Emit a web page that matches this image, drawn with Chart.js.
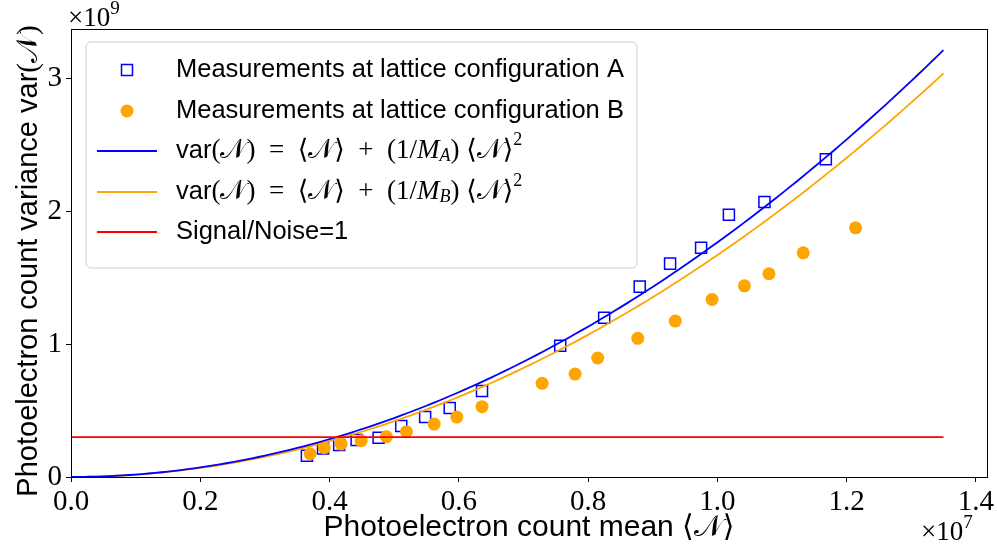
<!DOCTYPE html>
<html>
<head>
<meta charset="utf-8">
<script src="https://cdn.jsdelivr.net/npm/chart.js@4.4.0/dist/chart.umd.min.js"></script>
<style>
  html, body { margin: 0; padding: 0; background: #fff; }
</style>
</head>
<body>
<canvas id="chartVariance" width="997" height="554"></canvas>
<script>
// x values in units of 1e7 photoelectrons, y values in units of 1e9
const meanA = [0.365, 0.39, 0.415, 0.442, 0.476, 0.511, 0.548, 0.586, 0.636, 0.757, 0.825, 0.880, 0.927, 0.975, 1.018, 1.073, 1.168];
const varA  = [0.160, 0.215, 0.240, 0.278, 0.295, 0.383, 0.451, 0.519, 0.647, 0.987, 1.198, 1.432, 1.605, 1.724, 1.972, 2.068, 2.391];

const meanB = [0.370, 0.392, 0.418, 0.449, 0.488, 0.519, 0.562, 0.597, 0.636, 0.729, 0.780, 0.815, 0.877, 0.935, 0.992, 1.042, 1.080, 1.133, 1.214];
const varB  = [0.175, 0.220, 0.248, 0.273, 0.303, 0.341, 0.398, 0.451, 0.529, 0.705, 0.774, 0.895, 1.043, 1.173, 1.336, 1.438, 1.529, 1.686, 1.874];

// fitted mode numbers for var = <N> + <N>^2 / M
const modesA = 57000;
const modesB = 60300;
const fitEnd = 1.35;          // last mean value of the fit curves (x1e7)
const snrOneLevel = 0.30;     // variance where signal/noise = 1 (x1e9)

const xTicks = [0.0, 0.2, 0.4, 0.6, 0.8, 1.0, 1.2, 1.4];
const yTicks = [0, 1, 2, 3];

const legendLabels = [
    "Measurements at lattice configuration A",
    "Measurements at lattice configuration B",
    "fitA",
    "fitB",
    "Signal/Noise=1"
];

const SANS  = '"Liberation Sans", Arial, sans-serif';
const SERIF = '"Liberation Serif", "DejaVu Serif", serif';
const CAL_N = "\u{1D4A9}";
const SP = "\u2002";   // gap around = and + in the formulas

// fit curve sampled over the mean range
function fitCurve(modes) {
    const pts = [];
    for (let i = 0; i <= 135; i++) {
        const n = i / 100;              // x1e7
        const nAbs = n * 1e7;
        pts.push({ x: n, y: (nAbs + nAbs * nAbs / modes) / 1e9 });
    }
    return pts;
}

function zip(xs, ys) {
    return xs.map((x, i) => ({ x: x, y: ys[i] }));
}

// draws a run of text pieces with their own fonts / vertical offsets
function drawRich(ctx, parts, x, y, align) {
    let total = 0;
    parts.forEach(p => { ctx.font = p.font; total += ctx.measureText(p.text).width; });
    let cx = align === "center" ? x - total / 2 : x;
    parts.forEach(p => {
        ctx.font = p.font;
        ctx.fillText(p.text, cx, y + (p.dy || 0));
        cx += ctx.measureText(p.text).width;
    });
}

function fitLabelParts(sub) {
    const s = "25.5px " + SANS, m = "27px " + SERIF, mi = "italic 27px " + SERIF;
    return [
        { text: "var", font: s },
        { text: "(", font: m },
        { text: CAL_N, font: m },
        { text: ")" + SP + "=" + SP + "\u27E8", font: m },
        { text: CAL_N, font: m },
        { text: "\u27E9" + SP + "+" + SP + "(1/", font: m },
        { text: "M", font: mi },
        { text: sub, font: "italic 18px " + SERIF, dy: 5 },
        { text: ")\u2005\u27E8", font: m },
        { text: CAL_N, font: m },
        { text: "\u27E9", font: m },
        { text: "2", font: "18px " + SERIF, dy: -11 }
    ];
}

const frameAndText = {
    id: "frameAndText",
    afterDraw(chart) {
        const { ctx, chartArea: a } = chart;
        ctx.save();

        // axes frame
        ctx.strokeStyle = "#000";
        ctx.lineWidth = 1;
        ctx.strokeRect(Math.round(a.left) + 0.5, Math.round(a.top) + 0.5,
                       Math.round(a.right - a.left), Math.round(a.bottom - a.top));

        ctx.fillStyle = "#000";
        ctx.textBaseline = "alphabetic";

        // axis titles
        drawRich(ctx, [
            { text: "Photoelectron count mean ", font: "30px " + SANS },
            { text: "\u27E8" + CAL_N + "\u27E9", font: "30px " + SERIF }
        ], (a.left + a.right) / 2, 536, "center");

        ctx.save();
        ctx.translate(37, (a.top + a.bottom) / 2 + 8);
        ctx.rotate(-Math.PI / 2);
        drawRich(ctx, [
            { text: "Photoelectron count variance var", font: "29px " + SANS },
            { text: "(" + CAL_N + ")", font: "29px " + SERIF }
        ], 0, 0, "center");
        ctx.restore();

        // offset multipliers
        drawRich(ctx, [
            { text: "\u00D710", font: "27px " + SERIF },
            { text: "9", font: "19px " + SERIF, dy: -12 }
        ], 68, 26, "left");
        drawRich(ctx, [
            { text: "\u00D710", font: "27px " + SERIF },
            { text: "7", font: "19px " + SERIF, dy: -12 }
        ], 921, 540, "left");

        // legend box
        const bx = 86, by = 42, bw = 551, bh = 226, r = 5;
        ctx.beginPath();
        ctx.moveTo(bx + r, by);
        ctx.arcTo(bx + bw, by, bx + bw, by + bh, r);
        ctx.arcTo(bx + bw, by + bh, bx, by + bh, r);
        ctx.arcTo(bx, by + bh, bx, by, r);
        ctx.arcTo(bx, by, bx + bw, by, r);
        ctx.closePath();
        ctx.fillStyle = "rgba(255,255,255,0.8)";
        ctx.fill();
        ctx.strokeStyle = "#cccccc";
        ctx.lineWidth = 1;
        ctx.stroke();

        const rows = [70, 111, 151, 192, 232];
        const hx0 = 97, hx1 = 157, hmid = 127, tx = 176;

        // A: open square
        ctx.strokeStyle = "#0000ff";
        ctx.lineWidth = 1.5;
        ctx.strokeRect(hmid - 5.5, rows[0] - 5.5, 11, 11);
        // B: filled circle
        ctx.fillStyle = "#ffa500";
        ctx.beginPath();
        ctx.arc(hmid, rows[1], 6.5, 0, Math.PI * 2);
        ctx.fill();
        // line handles
        [["#0000ff", 2], ["#ffa500", 3], ["#ff0000", 4]].forEach(([c, i]) => {
            ctx.strokeStyle = c;
            ctx.lineWidth = 1.8;
            ctx.beginPath();
            ctx.moveTo(hx0, rows[i]);
            ctx.lineTo(hx1, rows[i]);
            ctx.stroke();
        });

        ctx.fillStyle = "#000";
        ctx.textBaseline = "middle";
        ctx.font = "25.5px " + SANS;
        ctx.fillText(legendLabels[0], tx, rows[0]);
        ctx.fillText(legendLabels[1], tx, rows[1]);
        drawRich(ctx, fitLabelParts("A"), tx, rows[2], "left");
        drawRich(ctx, fitLabelParts("B"), tx, rows[3], "left");
        ctx.font = "25.5px " + SANS;
        ctx.fillText(legendLabels[4], tx, rows[4]);

        ctx.restore();
    }
};

const ctx = document.getElementById("chartVariance").getContext("2d");

new Chart(ctx, {
    type: "scatter",
    data: {
        datasets: [
            {
                label: legendLabels[0],
                data: zip(meanA, varA),
                pointStyle: "rect",
                pointRadius: 7.8,
                pointHoverRadius: 7.8,
                backgroundColor: "rgba(0,0,0,0)",
                borderColor: "#0000ff",
                borderWidth: 1.5,
                order: 5
            },
            {
                label: legendLabels[1],
                data: zip(meanB, varB),
                pointStyle: "circle",
                pointRadius: 6.5,
                pointHoverRadius: 6.5,
                backgroundColor: "#ffa500",
                borderWidth: 0,
                order: 4
            },
            {
                label: legendLabels[2],
                data: fitCurve(modesA),
                showLine: true,
                pointRadius: 0,
                borderColor: "#0000ff",
                borderWidth: 1.8,
                order: 2
            },
            {
                label: legendLabels[3],
                data: fitCurve(modesB),
                showLine: true,
                pointRadius: 0,
                borderColor: "#ffa500",
                borderWidth: 1.8,
                order: 3
            },
            {
                label: legendLabels[4],
                data: [{ x: 0, y: snrOneLevel }, { x: fitEnd, y: snrOneLevel }],
                showLine: true,
                pointRadius: 0,
                borderColor: "#ff0000",
                borderWidth: 1.8,
                order: 1
            }
        ]
    },
    options: {
        responsive: false,
        devicePixelRatio: 1,
        animation: false,
        layout: { padding: { top: 29, right: 9, left: 0, bottom: 0 } },
        plugins: {
            legend: { display: false },
            tooltip: { enabled: false }
        },
        scales: {
            x: {
                type: "linear",
                min: 0,
                max: 1.4175,
                afterFit: s => { s.height = 77; },
                afterBuildTicks: s => { s.ticks = xTicks.map(v => ({ value: v })); },
                border: { display: false },
                grid: { drawOnChartArea: false, drawTicks: true, tickLength: 5, color: "#000", tickWidth: 1 },
                ticks: {
                    padding: 3,
                    color: "#000",
                    font: { family: SERIF, size: 29 },
                    callback: v => v.toFixed(1)
                }
            },
            y: {
                type: "linear",
                min: 0,
                max: 3.37,
                afterFit: s => { s.width = 71; },
                afterBuildTicks: s => { s.ticks = yTicks.map(v => ({ value: v })); },
                border: { display: false },
                grid: { drawOnChartArea: false, drawTicks: true, tickLength: 5, color: "#000", tickWidth: 1 },
                ticks: {
                    padding: 4,
                    color: "#000",
                    font: { family: SERIF, size: 29 },
                    callback: v => String(v)
                }
            }
        }
    },
    plugins: [frameAndText]
});
</script>
</body>
</html>
